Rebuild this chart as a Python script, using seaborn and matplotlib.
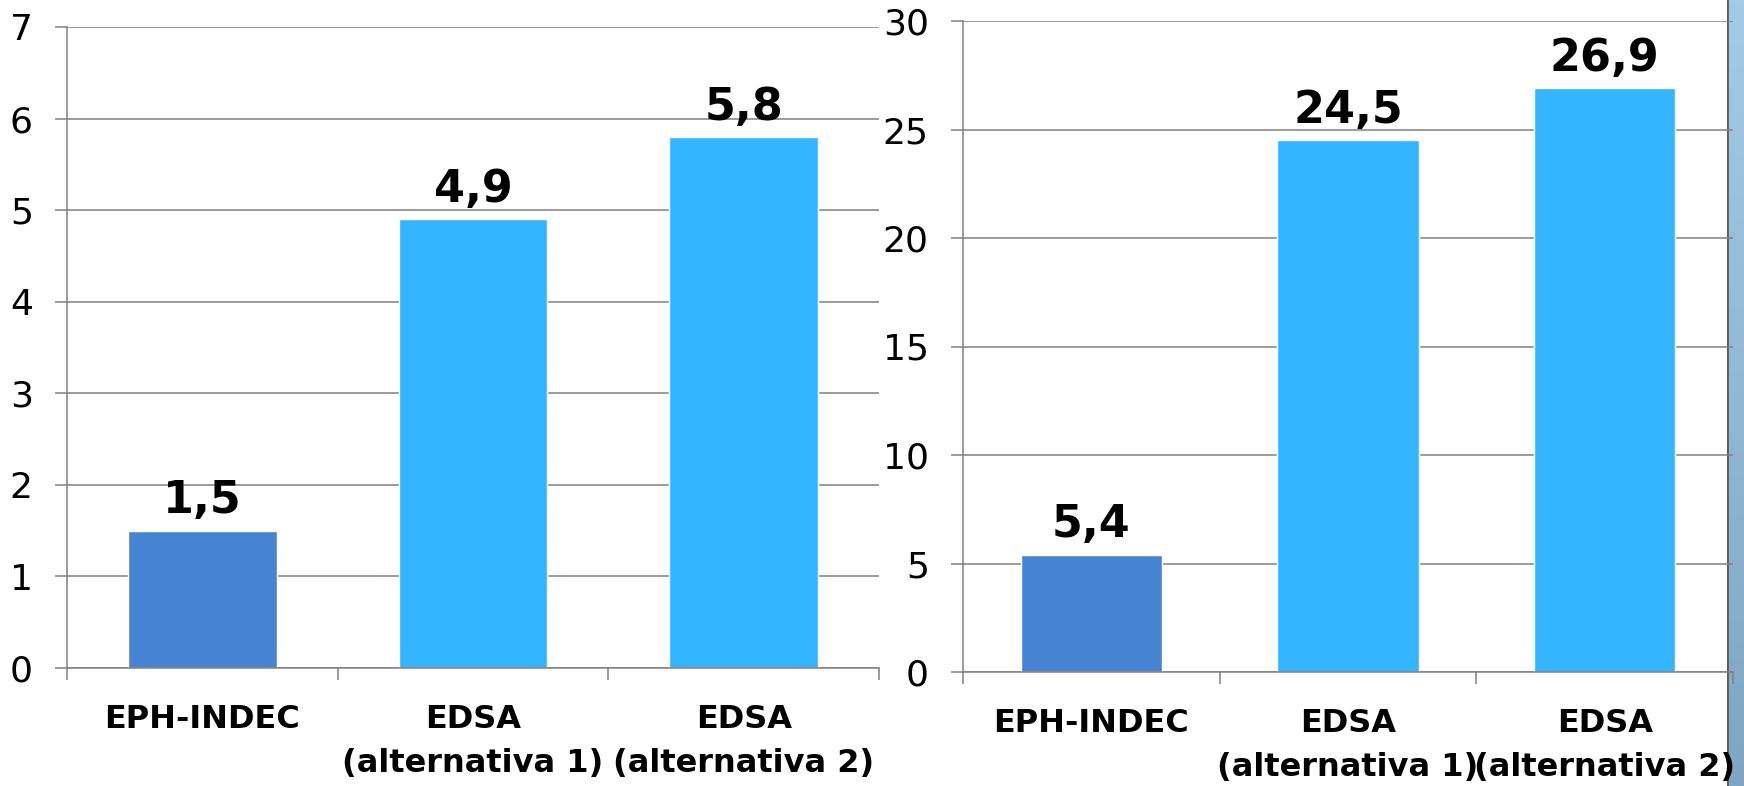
import numpy as np
import pandas as pd
import matplotlib
matplotlib.use("Agg")
import matplotlib.pyplot as plt
import seaborn as sns

# Data
categories = ["EPH-INDEC", "EDSA\n(alternativa 1)", "EDSA\n(alternativa 2)"]
left_values = [1.5, 4.9, 5.8]
right_values = [5.4, 24.5, 26.9]
left_ticks = [0, 1, 2, 3, 4, 5, 6, 7]
right_ticks = [0, 5, 10, 15, 20, 25, 30]
bar_colors = ["#4684D3", "#33B5FF", "#33B5FF"]

GRID = "#808080"


def style_axes(ax, ticks):
    ax.set_facecolor("none")
    ax.set_ylim(ticks[0], ticks[-1])
    ax.set_yticks(ticks)
    ax.set_xlim(-0.5, len(categories) - 0.5)
    ax.set_xlabel("")
    ax.set_ylabel("")
    ax.yaxis.grid(True, color=GRID, linewidth=1.1)
    ax.set_axisbelow(True)
    for side in ["top", "right"]:
        ax.spines[side].set_visible(False)
    for side in ["left", "bottom"]:
        ax.spines[side].set_color(GRID)
        ax.spines[side].set_linewidth(1.1)
    ax.tick_params(axis="y", direction="out", length=8.6, width=1.1,
                   color=GRID, labelsize=26, pad=16, left=True,
                   labelcolor="black")
    # category boundary ticks on x, labels in the middle
    ax.set_xticks(np.arange(-0.5, len(categories)), minor=True)
    ax.set_xticks(range(len(categories)))
    ax.set_xticklabels(categories, fontweight="bold", fontsize=23,
                       linespacing=1.55, color="black")
    ax.tick_params(axis="x", which="major", length=0, pad=26)
    ax.tick_params(axis="x", which="minor", direction="out", length=8.6,
                   width=1.1, color=GRID, bottom=True)


def draw(ax, values, ticks):
    df = pd.DataFrame({"cat": categories, "val": values})
    sns.barplot(data=df, x="cat", y="val", hue="cat", palette=bar_colors,
                width=0.55, saturation=1, legend=False, ax=ax)
    for cont in ax.containers:
        ax.bar_label(cont, labels=[f"{v:.1f}".replace(".", ",") for v in cont.datavalues],
                     fontsize=32, fontweight="bold", padding=6, color="black")
    style_axes(ax, ticks)


sns.set_theme(style="white")
plt.rcParams["font.family"] = ["DejaVu Sans"]
plt.rcParams["text.color"] = "black"

fig = plt.figure(figsize=(17.44, 7.86), dpi=100)
fig.patch.set_facecolor("white")

# decorative panel on the right edge
deco = fig.add_axes([1727 / 1744, 0, 17 / 1744, 1], zorder=0)
grad = np.linspace(0, 1, 256).reshape(-1, 1)
cmap = matplotlib.colors.LinearSegmentedColormap.from_list("p", ["#A4CBE6", "#7EA6C2"])
deco.imshow(grad, aspect="auto", cmap=cmap, extent=[0, 1, 0, 1], origin="upper")
deco.axvline(0.02, color="#5A5A5A", linewidth=2)
deco.set_axis_off()

ax1 = fig.add_axes([67 / 1744, 1 - 668 / 786, 812 / 1744, 641 / 786], zorder=1)
ax2 = fig.add_axes([963 / 1744, 1 - 672 / 786, 770 / 1744, 651 / 786], zorder=1)

draw(ax1, left_values, left_ticks)
draw(ax2, right_values, right_ticks)

fig.savefig("out.png", dpi=100)
